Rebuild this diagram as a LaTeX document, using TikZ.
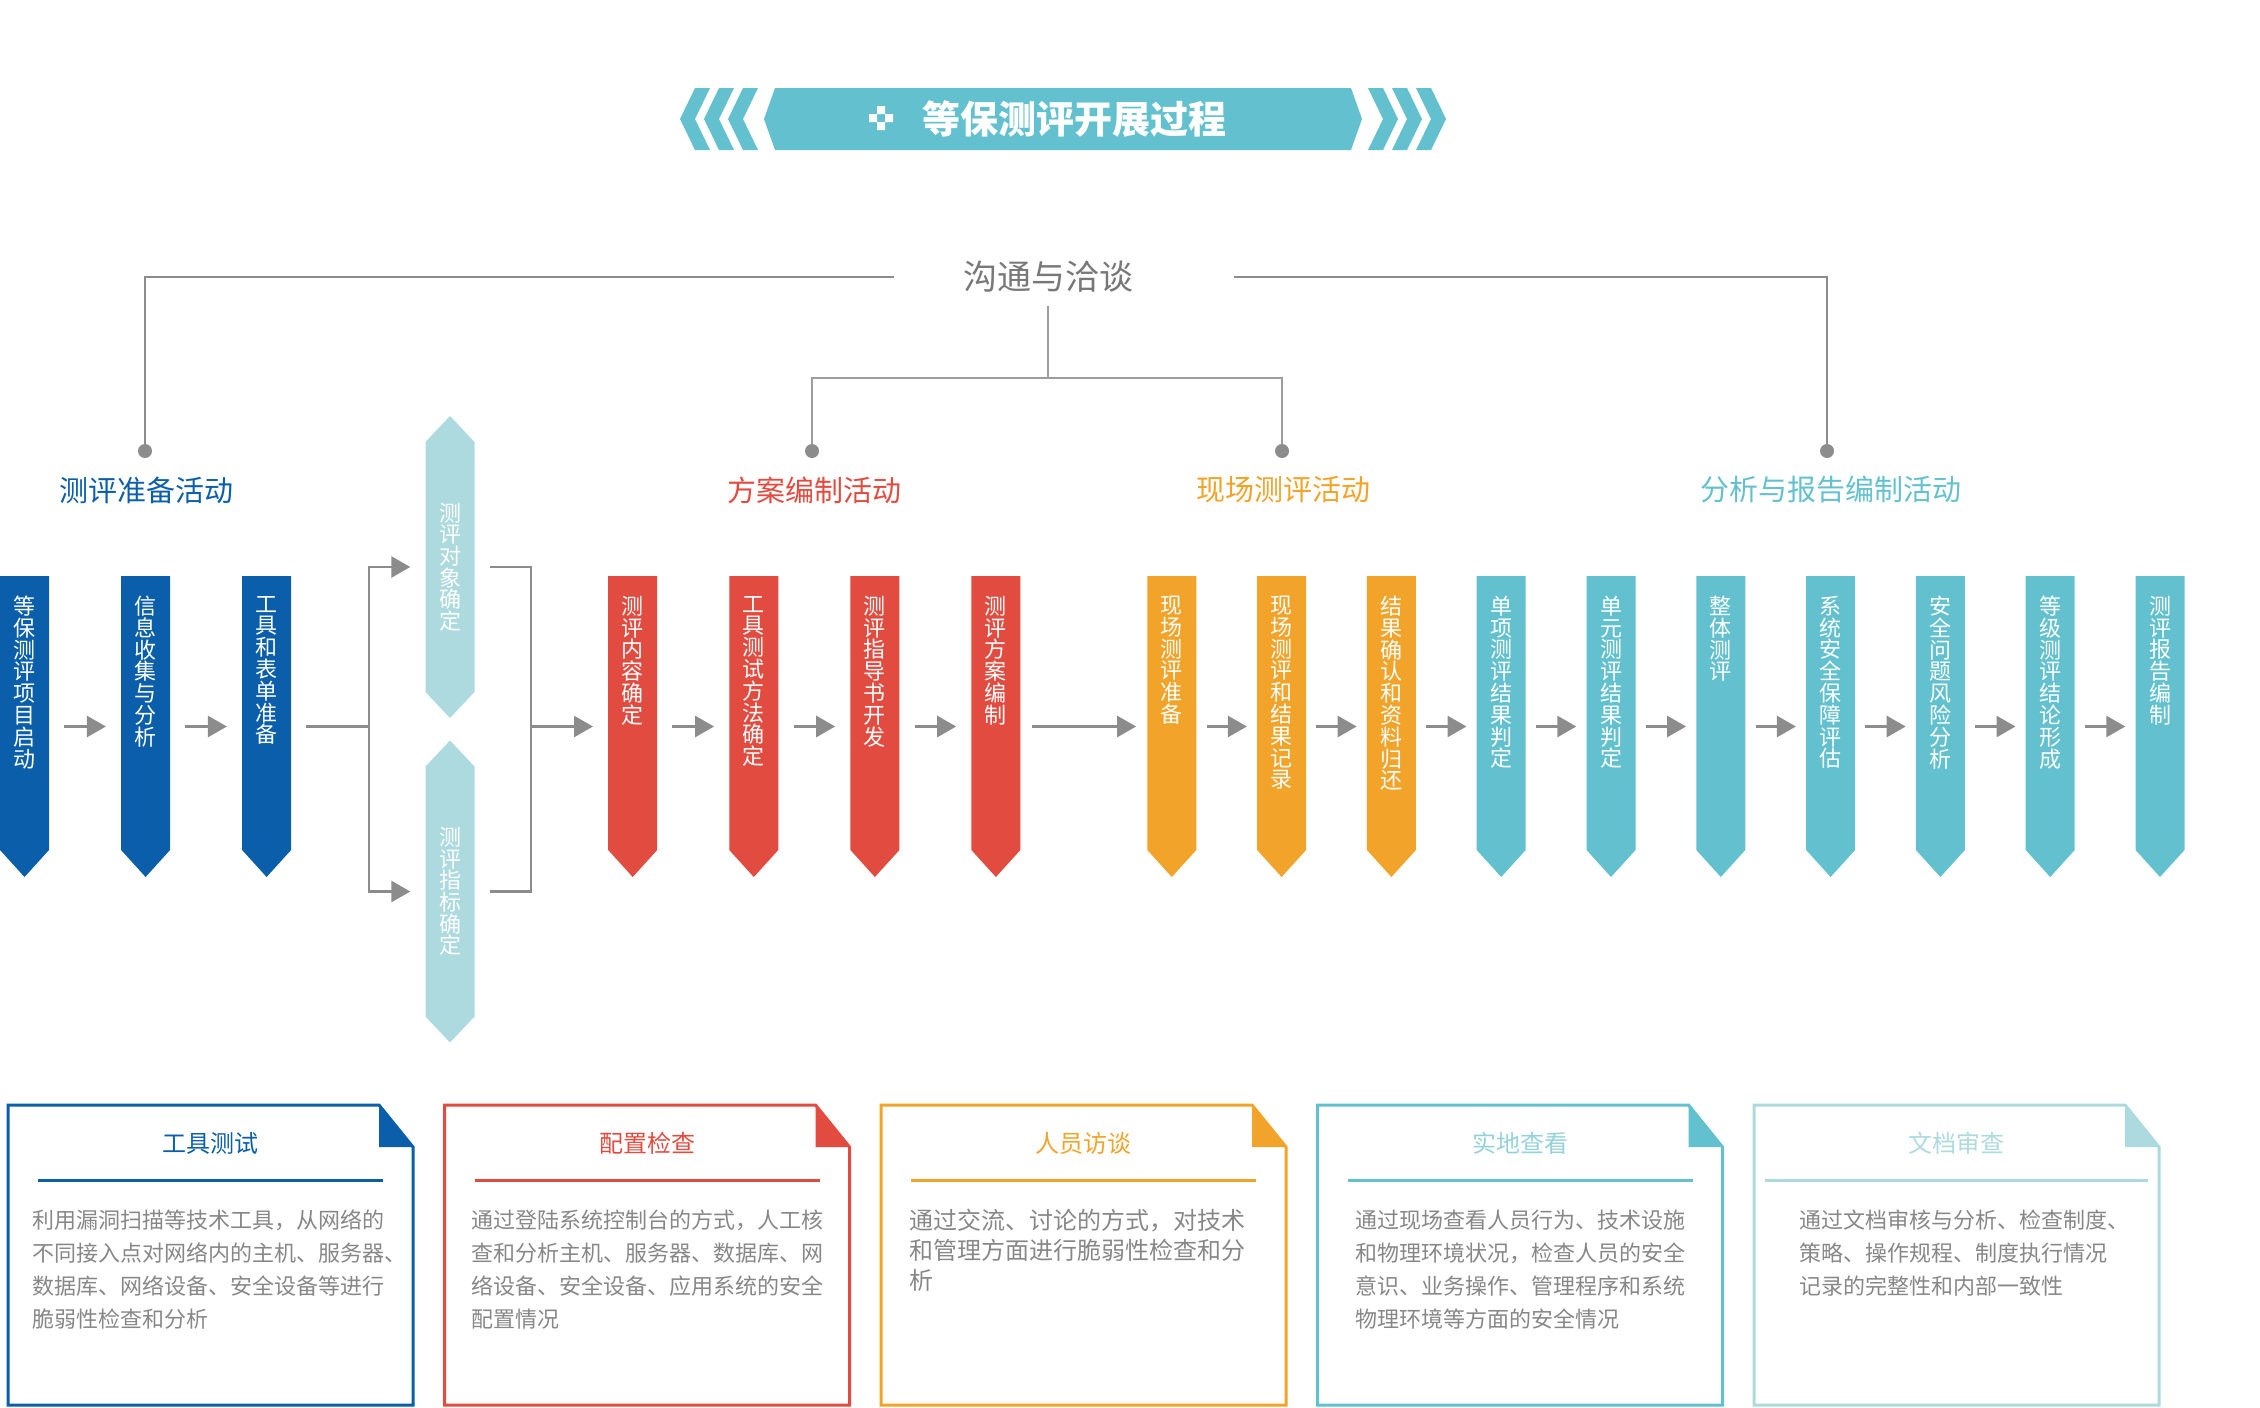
\documentclass[tikz,border=0pt]{standalone}
\usepackage{fontspec}
\setmainfont{Noto Sans CJK SC}
\usepackage{tikz}
\usepackage{xcolor}
\usetikzlibrary{arrows.meta}
\XeTeXlinebreaklocale "zh"
\XeTeXlinebreakskip=0pt plus 1pt
\definecolor{prepblue}{RGB}{11,95,170}
\definecolor{planred}{RGB}{226,75,63}
\definecolor{siteorange}{RGB}{242,163,41}
\definecolor{reportteal}{RGB}{99,193,207}
\definecolor{paleteal}{RGB}{173,218,222}
\definecolor{softteal}{RGB}{148,210,219}
\definecolor{linegray}{RGB}{140,140,140}
\definecolor{talkgray}{RGB}{120,120,120}
\definecolor{textgray}{RGB}{135,135,135}

\tikzset{
  stepbar/.style={minimum width=49, minimum height=301, inner sep=0pt,
    path picture={\fill[#1] (path picture bounding box.north west) -- (path picture bounding box.north east) -- ([yshift=27pt]path picture bounding box.south east) -- (path picture bounding box.south) -- ([yshift=27pt]path picture bounding box.south west) -- cycle;}},
  steptxt/.style={anchor=north, yshift=-20pt, inner sep=0pt, text width=23pt, align=center, text=white, font=\fontsize{22}{21.8}\selectfont},
  hexbar/.style={minimum width=49, minimum height=302, inner sep=0pt, text width=23pt, align=center, text=white, font=\fontsize{22}{21.6}\selectfont,
    path picture={\fill[paleteal] (path picture bounding box.north) -- ([yshift=-26pt]path picture bounding box.north east) -- ([yshift=26pt]path picture bounding box.south east) -- (path picture bounding box.south) -- ([yshift=26pt]path picture bounding box.south west) -- ([yshift=-26pt]path picture bounding box.north west) -- cycle;}},
  flow/.style={linegray, line width=2.7pt, -{Triangle[length=19pt,width=21pt]}, shorten <=#1, shorten >=#1},
  flow/.default=10pt,
  joint/.style={linegray, line width=2.7pt},
  topline/.style={linegray, line width=2.4pt},
  midline/.style={linegray!85, line width=1.4pt},
  dot/.style={circle, fill=linegray, minimum size=14, inner sep=0pt},
  phase/.style={font=\fontsize{29}{31}\selectfont, text=#1},
  card/.style={draw=#1, line width=3pt},
  cardrule/.style={draw=#1, line width=3pt},
  cardtitle/.style={font=\fontsize{24}{26}\selectfont, text=#1},
  cardtext/.style={anchor=base west, text width=380pt, align=left, inner sep=0pt, text=textgray, font=\fontsize{22}{33.3}\selectfont}
}

\begin{document}
\begin{tikzpicture}[x=1pt,y=-1pt]
\useasboundingbox (0,0) rectangle (2260,1408);
\fill[reportteal] (764,119) -- (775,88) -- (1351,88) -- (1362,119) -- (1351,150) -- (775,150) -- cycle;
\fill[reportteal] (695,88) -- (710,88) -- (695,119) -- (710,150) -- (695,150) -- (680,119) -- cycle;
\fill[reportteal] (719,88) -- (734,88) -- (719,119) -- (734,150) -- (719,150) -- (704,119) -- cycle;
\fill[reportteal] (743,88) -- (758,88) -- (743,119) -- (758,150) -- (743,150) -- (728,119) -- cycle;
\fill[reportteal] (1431,88) -- (1416,88) -- (1431,119) -- (1416,150) -- (1431,150) -- (1446,119) -- cycle;
\fill[reportteal] (1407,88) -- (1392,88) -- (1407,119) -- (1392,150) -- (1407,150) -- (1422,119) -- cycle;
\fill[reportteal] (1383,88) -- (1368,88) -- (1383,119) -- (1368,150) -- (1383,150) -- (1398,119) -- cycle;
\fill[white] (877,106) rectangle (885,114) (869,114) rectangle (877,122) (885,114) rectangle (893,122) (877,122) rectangle (885,130);
\node[font=\fontsize{38}{40}\selectfont\bfseries, text=white] (title) at (1074,119) {等保测评开展过程};

\node[font=\fontsize{34}{36}\selectfont, text=talkgray, inner sep=0pt] (talk) at (1048,277) {沟通与洽谈};
\coordinate (j3) at (1048,378);
\node[dot] (d1) at (145,451) {};
\node[dot] (d2) at (812,451) {};
\node[dot] (d3) at (1282,451) {};
\node[dot] (d4) at (1827,451) {};
\draw[topline, shorten <=69pt] (talk.west) -| (d1); \draw[topline, shorten <=101pt] (talk.east) -| (d4);
\draw[midline, shorten <=13pt] (talk) -- (j3); \draw[midline] (j3) -| (d2); \draw[midline] (j3) -| (d3);

\node[phase=prepblue] (g1) at (146,490) {测评准备活动};
\node[phase=planred] (g2) at (814,490) {方案编制活动};
\node[phase=siteorange] (g3) at (1283,490) {现场测评活动};
\node[phase=reportteal] (g4) at (1831,490) {分析与报告编制活动};

\node[stepbar=prepblue, label={[steptxt]north:等保测评项目启动}] (s1) at (24.5,726.5) {};
\node[stepbar=prepblue, label={[steptxt]north:信息收集与分析}] (s2) at (145.6,726.5) {};
\node[stepbar=prepblue, label={[steptxt]north:工具和表单准备}] (s3) at (266.6,726.5) {};
\node[hexbar] (o1) at (450,567) {测评对象确定};
\node[hexbar] (o2) at (450,891.5) {测评指标确定};
\coordinate (j1) at (369,726.5);
\coordinate (j2) at (531,726.5);
\node[stepbar=planred, label={[steptxt]north:测评内容确定}] (p1) at (632.7,726.5) {};
\node[stepbar=planred, label={[steptxt]north:工具测试方法确定}] (p2) at (753.8,726.5) {};
\node[stepbar=planred, label={[steptxt]north:测评指导书开发}] (p3) at (874.9,726.5) {};
\node[stepbar=planred, label={[steptxt]north:测评方案编制}] (p4) at (995.9,726.5) {};
\node[stepbar=siteorange, label={[steptxt]north:现场测评准备}] (f1) at (1171.8,726.5) {};
\node[stepbar=siteorange, label={[steptxt]north:现场测评和结果记录}] (f2) at (1281.6,726.5) {};
\node[stepbar=siteorange, label={[steptxt]north:结果确认和资料归还}] (f3) at (1391.4,726.5) {};
\node[stepbar=reportteal, label={[steptxt]north:单项测评结果判定}] (a1) at (1501.2,726.5) {};
\node[stepbar=reportteal, label={[steptxt]north:单元测评结果判定}] (a2) at (1611,726.5) {};
\node[stepbar=reportteal, label={[steptxt]north:整体测评}] (a3) at (1720.8,726.5) {};
\node[stepbar=reportteal, label={[steptxt]north:系统安全保障评估}] (a4) at (1830.6,726.5) {};
\node[stepbar=reportteal, label={[steptxt]north:安全问题风险分析}] (a5) at (1940.4,726.5) {};
\node[stepbar=reportteal, label={[steptxt]north:等级测评结论形成}] (a6) at (2050.2,726.5) {};
\node[stepbar=reportteal, label={[steptxt]north:测评报告编制}] (a7) at (2160,726.5) {};

\draw[flow=15pt] (s1) -- (s2); \draw[flow=15pt] (s2) -- (s3);
\draw[joint, shorten <=15pt] (s3) -- (j1); \draw[flow=15pt, shorten <=0pt] (j1) |- (o1); \draw[flow=15pt, shorten <=0pt] (j1) |- (o2);
\draw[joint, shorten <=15pt] (o1) -| (j2); \draw[joint, shorten <=15pt] (o2) -| (j2); \draw[flow=15pt, shorten <=0pt] (j2) -- (p1);
\draw[flow=15pt] (p1) -- (p2); \draw[flow=15pt] (p2) -- (p3); \draw[flow=15pt] (p3) -- (p4);
\draw[flow=11pt] (p4) -- (f1);
\draw[flow] (f1) -- (f2); \draw[flow] (f2) -- (f3); \draw[flow] (f3) -- (a1); \draw[flow] (a1) -- (a2);
\draw[flow] (a2) -- (a3); \draw[flow] (a3) -- (a4); \draw[flow] (a4) -- (a5); \draw[flow] (a5) -- (a6); \draw[flow] (a6) -- (a7);

\draw[card=prepblue] (8,1105) -- (379,1105) -- (413,1147) -- (413,1405) -- (8,1405) -- cycle;
\fill[prepblue] (379,1105) -- (379,1147) -- (413,1147) -- cycle;
\node[cardtitle=prepblue] (k1) at (210.5,1143) {工具测试};
\draw[cardrule=prepblue] (38,1180) -- (383,1180);
\node[cardtext] (b1) at (32,1228) {利用漏洞扫描等技术工具，从网络的\\不同接入点对网络内的主机、服务器、\\数据库、网络设备、安全设备等进行\\脆弱性检查和分析};

\draw[card=planred] (444.5,1105) -- (815.5,1105) -- (849.5,1147) -- (849.5,1405) -- (444.5,1405) -- cycle;
\fill[planred] (815.5,1105) -- (815.5,1147) -- (849.5,1147) -- cycle;
\node[cardtitle=planred] (k2) at (647,1143) {配置检查};
\draw[cardrule=planred] (474.5,1180) -- (819.5,1180);
\node[cardtext] (b2) at (471,1228) {通过登陆系统控制台的方式，人工核\\查和分析主机、服务器、数据库、网\\络设备、安全设备、应用系统的安全\\配置情况};

\draw[card=siteorange] (881,1105) -- (1252,1105) -- (1286,1147) -- (1286,1405) -- (881,1405) -- cycle;
\fill[siteorange] (1252,1105) -- (1252,1147) -- (1286,1147) -- cycle;
\node[cardtitle=siteorange] (k3) at (1083.5,1143) {人员访谈};
\draw[cardrule=siteorange] (911,1180) -- (1256,1180);
\node[cardtext, font=\fontsize{24}{30}\selectfont] (b3) at (909,1229) {通过交流、讨论的方式，对技术\\和管理方面进行脆弱性检查和分\\析};

\draw[card=reportteal] (1317.5,1105) -- (1688.5,1105) -- (1722.5,1147) -- (1722.5,1405) -- (1317.5,1405) -- cycle;
\fill[reportteal] (1688.5,1105) -- (1688.5,1147) -- (1722.5,1147) -- cycle;
\node[cardtitle=softteal] (k4) at (1520,1143) {实地查看};
\draw[cardrule=reportteal] (1347.5,1180) -- (1692.5,1180);
\node[cardtext] (b4) at (1355,1228) {通过现场查看人员行为、技术设施\\和物理环境状况，检查人员的安全\\意识、业务操作、管理程序和系统\\物理环境等方面的安全情况};

\draw[card=paleteal] (1754,1105) -- (2125,1105) -- (2159,1147) -- (2159,1405) -- (1754,1405) -- cycle;
\fill[paleteal] (2125,1105) -- (2125,1147) -- (2159,1147) -- cycle;
\node[cardtitle=paleteal] (k5) at (1956.5,1143) {文档审查};
\draw[cardrule=paleteal] (1765,1180) -- (2148,1180);
\node[cardtext] (b5) at (1799,1228) {通过文档审核与分析、检查制度、\\策略、操作规程、制度执行情况\\记录的完整性和内部一致性};
\end{tikzpicture}
\end{document}
